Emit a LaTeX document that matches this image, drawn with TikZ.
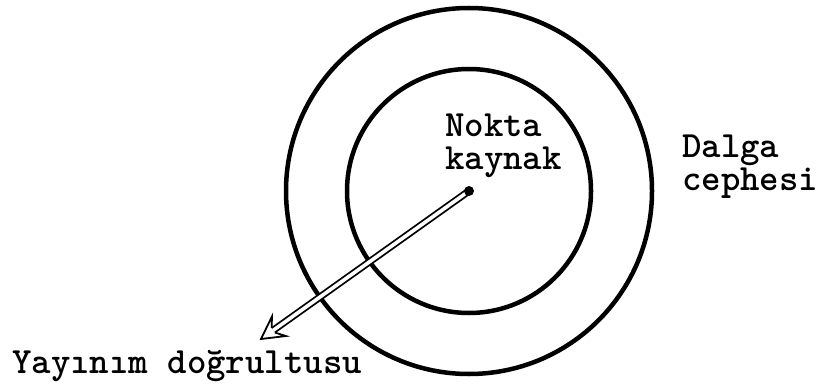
\documentclass[tikz,border=0pt]{standalone}
\usetikzlibrary{calc}
\begin{document}
\begin{tikzpicture}[x=1pt,y=-1pt,
  wavefront/.style={draw=black,line width=4.5pt},
  raydir/.style={line width=1.8pt,double=white,double distance=3.6pt},
  rayhead/.style={draw=black,fill=white,line width=1.8pt,line join=miter},
  srcdot/.style={circle,fill=black,inner sep=0pt,minimum size=10pt},
  lbl/.style={inner sep=0pt,align=left,font=\ttfamily\bfseries\fontsize{37}{33}\selectfont}]
\useasboundingbox (0,0) rectangle (821,390);
\coordinate (c) at (469,191);
\coordinate (tip) at (261,339);
\draw[wavefront] (c) circle[radius=183pt];
\draw[wavefront] (c) circle[radius=122pt];
% shaft and hollow head
\coordinate (hb) at ($(tip)!15pt!(c)$);
\coordinate (bb) at ($(tip)!22pt!(c)$);
\draw[raydir] (c) -- (hb);
\draw[rayhead] ($(hb)!2.7pt!90:(c)$) -- ($(bb)!12pt!90:(c)$) -- (tip)
   -- ($(bb)!12pt!-90:(c)$) -- ($(hb)!2.7pt!-90:(c)$);
\node[srcdot] (src) at (c) {};
\node[lbl,anchor=base west] (nk) at (445,169.5) {Nokta\\kaynak};
\node[lbl,anchor=base west] (dc) at (682,190.5) {Dalga\\cephesi};
\node[lbl,anchor=base west] (yd) at (12,373) {Yayınım doğrultusu};
\end{tikzpicture}
\end{document}
